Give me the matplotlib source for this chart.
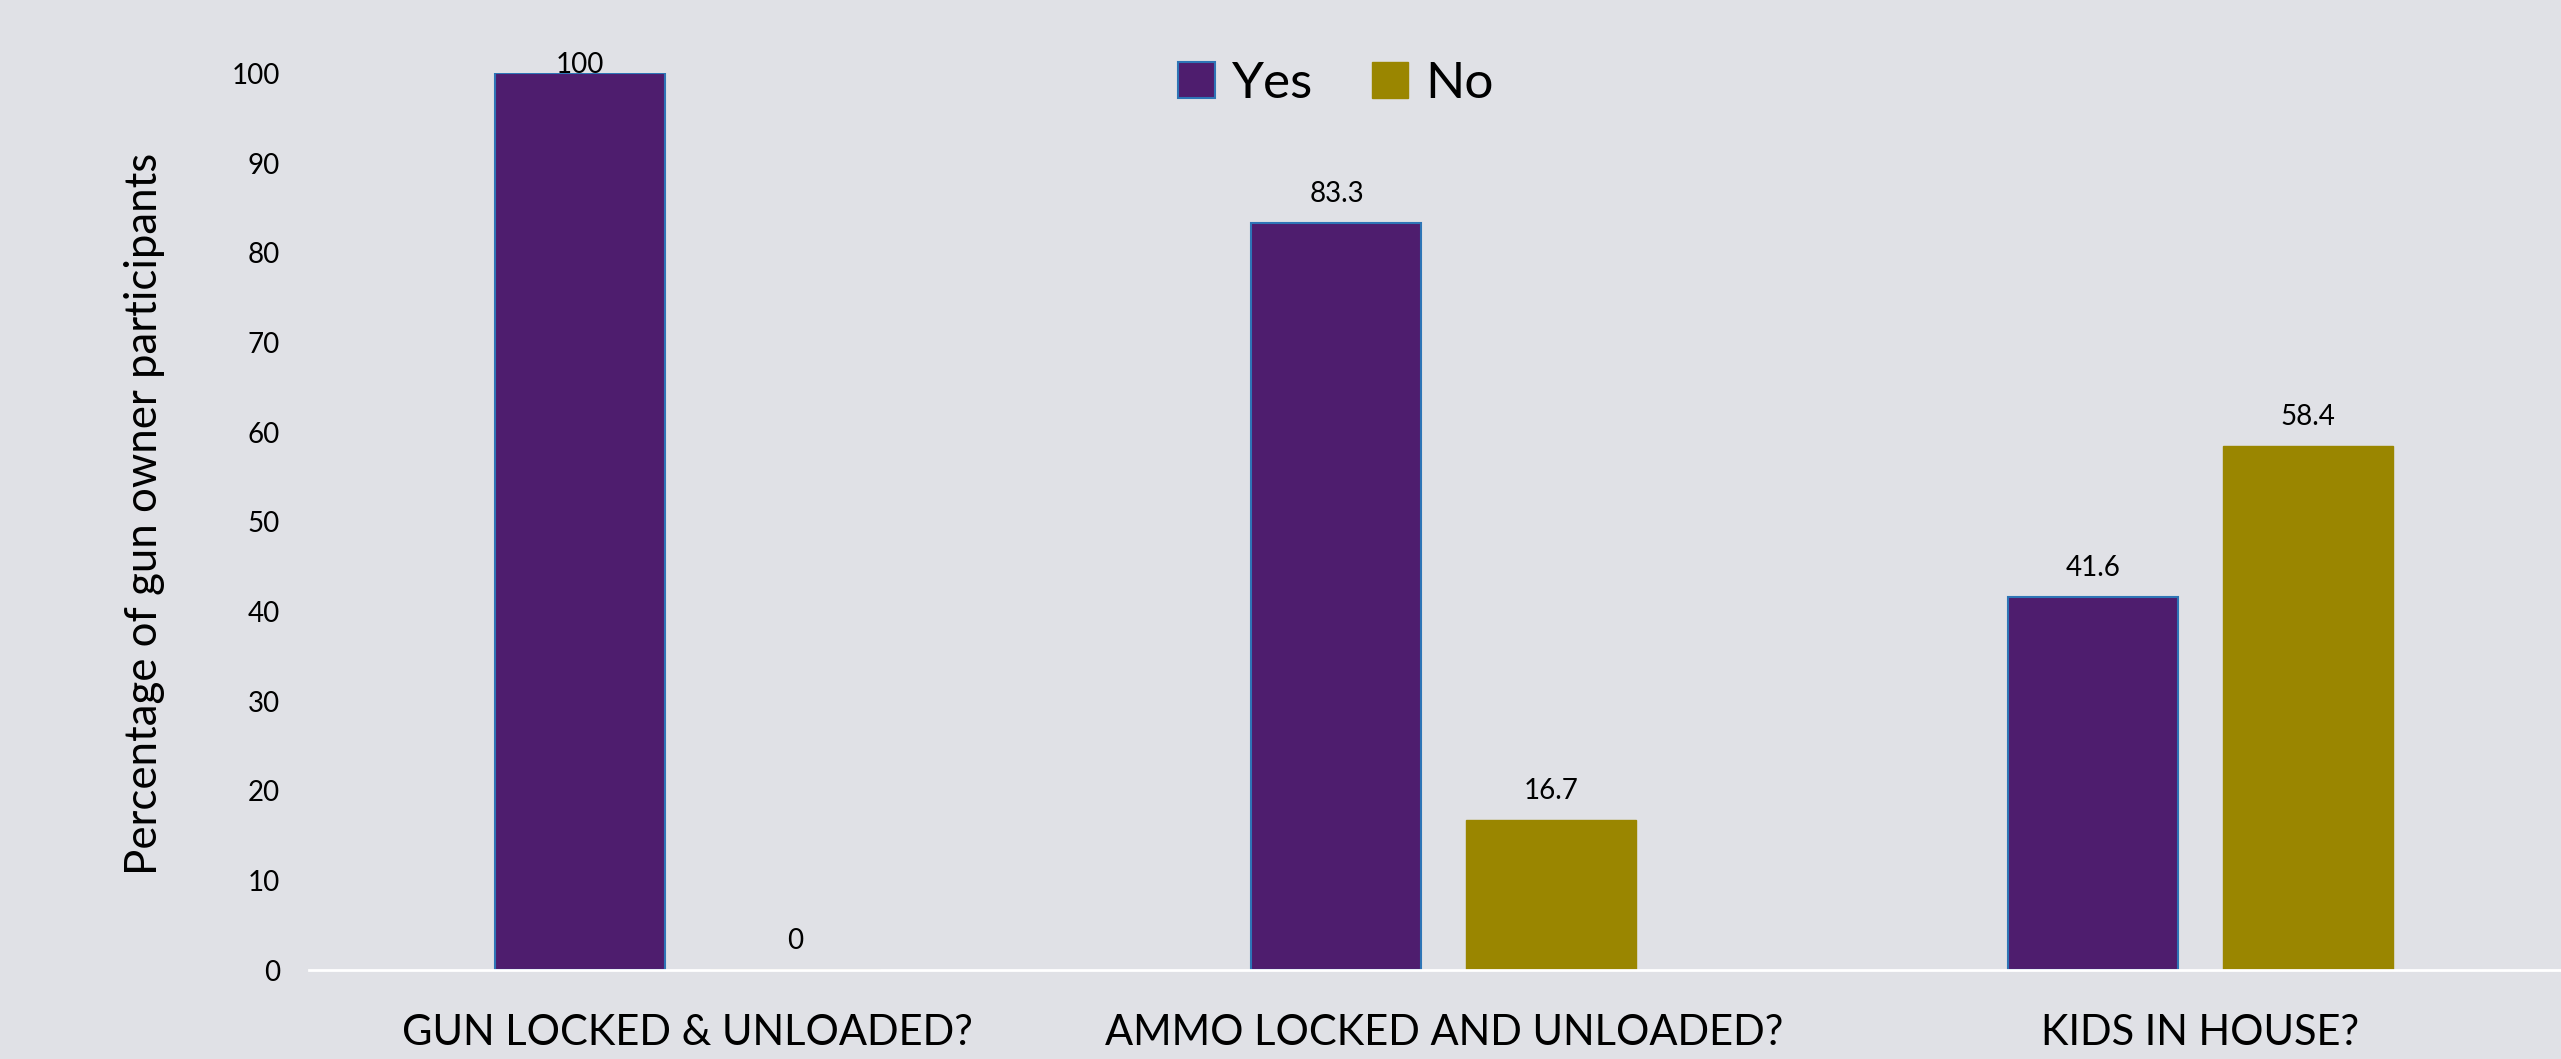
import numpy as np
import matplotlib.pyplot as plt

# data
categories = ['GUN LOCKED & UNLOADED?', 'AMMO LOCKED AND UNLOADED?', 'KIDS IN HOUSE?']
yes_values = [100, 83.3, 41.6]
no_values = [0, 16.7, 58.4]
yes_labels = ['100', '83.3', '41.6']
no_labels = ['0', '16.7', '58.4']

bg = '#E0E1E6'
purple = '#4E1D6E'
olive = '#9A8600'

plt.rcParams['font.family'] = ['Lato', 'DejaVu Sans']

fig = plt.figure(figsize=(25.61, 10.59), dpi=100, facecolor=bg)
ax = fig.add_axes([0.1207, 0.0840, 0.8862, 0.8466], facecolor=bg)

x = np.arange(len(categories))
width = 0.2247
offset = 0.142

bars_yes = ax.bar(x - offset, yes_values, width, color=purple, edgecolor='#2E75B6', linewidth=1.5, label='Yes')
bars_no = ax.bar(x + offset, no_values, width, color=olive, edgecolor=olive, linewidth=1, label='No')

# value labels above bars (Excel pushes the top one down inside the plot area)
for bars, labels in [(bars_yes, yes_labels), (bars_no, no_labels)]:
    for b, lab in zip(bars, labels):
        h = b.get_height()
        dy = 6 if h >= 95 else 21
        ax.annotate(lab, (b.get_x() + b.get_width() / 2, h), xytext=(0, dy),
                    textcoords='offset points', ha='center', va='center', fontsize=20)

ax.set_xlim(-0.5, 2.5)
ax.set_ylim(0, 100)
ax.set_yticks(np.arange(0, 101, 10))
ax.set_xticks(x)
ax.set_xticklabels(categories, fontsize=30)
ax.tick_params(axis='y', length=0, pad=21, labelsize=20)
ax.tick_params(axis='x', length=0, pad=32)

for s in ['top', 'right', 'left']:
    ax.spines[s].set_visible(False)
ax.spines['bottom'].set_color('white')
ax.spines['bottom'].set_linewidth(2)

ax.set_ylabel('Percentage of gun owner participants', fontsize=31.5)
ax.yaxis.set_label_coords(-0.0635, 0.5087)

fig.legend(loc='center', bbox_to_anchor=(0.5217, 0.921), ncol=2, frameon=False,
           fontsize=37, handlelength=0.71, handleheight=0.71, handletextpad=0.33,
           columnspacing=1.15)

plt.savefig('out.png', dpi=100, facecolor=bg)
